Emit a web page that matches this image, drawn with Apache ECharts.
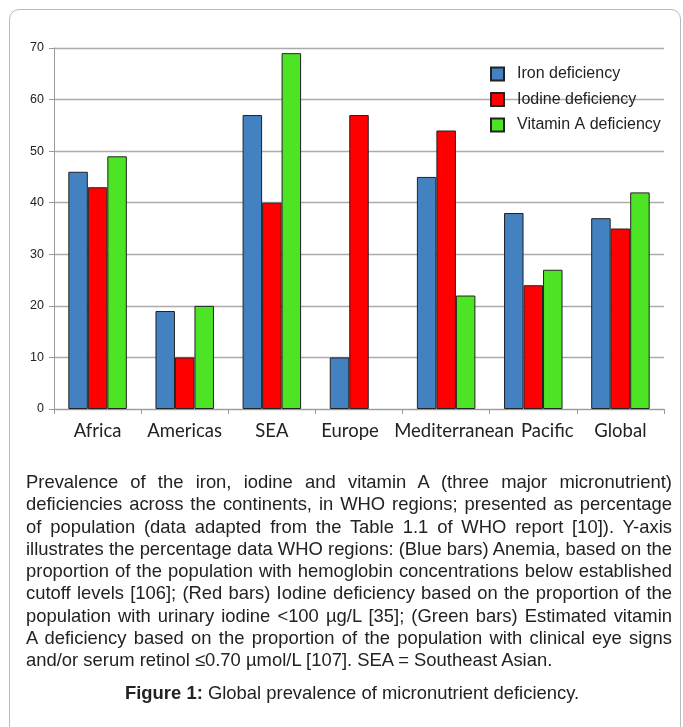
<!DOCTYPE html>
<html>
<head>
<meta charset="utf-8">
<script src="https://cdn.jsdelivr.net/npm/echarts@6/dist/echarts.min.js"></script>
<style>
  html, body { margin: 0; padding: 0; background: #fff; }
  #wrap { position: relative; width: 683px; height: 727px; overflow: hidden; }
  #frame {
    position: absolute; left: 9px; top: 9px; width: 672px; height: 760px;
    border: 1px solid #b9b9b9; border-radius: 10px; box-sizing: border-box;
  }
  #chart { position: absolute; left: 0; top: 0; width: 683px; height: 727px; }
  .txt {
    font-family: "Liberation Sans", Arial, sans-serif;
    font-size: 18.5px; color: #222;
  }
  #caption { position: absolute; left: 26px; top: 471px; width: 646px; }
  #caption .line {
    white-space: nowrap; height: 22.3px; line-height: 22.3px;
    transform-origin: 0 0;
  }
  #caption .line.full { text-align: justify; text-align-last: justify; }
  #figtitle {
    position: absolute; top: 682px; white-space: nowrap; line-height: 22px;
    transform-origin: 0 0;
  }
  #measure { position: absolute; visibility: hidden; white-space: nowrap; }
</style>
</head>
<body>
<div id="wrap">
  <div id="frame"></div>
  <div id="chart"></div>
  <div id="caption" class="txt">
    <div class="line full">Prevalence of the iron, iodine and vitamin A (three major micronutrient)</div>
    <div class="line full">deficiencies across the continents, in WHO regions; presented as percentage</div>
    <div class="line full">of population (data adapted from the Table 1.1 of WHO report [10]). Y-axis</div>
    <div class="line full" id="tightest">illustrates the percentage data WHO regions: (Blue bars) Anemia, based on the</div>
    <div class="line full">proportion of the population with hemoglobin concentrations below established</div>
    <div class="line full">cutoff levels [106]; (Red bars) Iodine deficiency based on the proportion of the</div>
    <div class="line full">population with urinary iodine &lt;100 µg/L [35]; (Green bars) Estimated vitamin</div>
    <div class="line full">A deficiency based on the proportion of the population with clinical eye signs</div>
    <div class="line">and/or serum retinol ≤0.70 µmol/L [107]. SEA = Southeast Asian.</div>
  </div>
  <div id="figtitle" class="txt"><b>Figure 1:</b> Global prevalence of micronutrient deficiency.</div>
  <span id="measure" class="txt"></span>
</div>
<script>
// WHO regions and deficiency prevalence (% of population)
const regions = ['Africa', 'Americas', 'SEA', 'Europe', 'Mediterranean', 'Pacific', 'Global'];
const ironDeficiency = [46, 19, 57, 10, 45, 38, 37];
const iodineDeficiency = [43, 10, 40, 57, 54, 24, 35];
const vitaminADeficiency = [49, 20, 69, null, 22, 27, 42];
const seriesNames = ['Iron deficiency', 'Iodine deficiency', 'Vitamin A deficiency'];
const seriesColors = ['#4381c1', '#ff0000', '#4ce424'];
// crowded labels are nudged sideways so they do not collide
const labelNudge = { Europe: -9, Mediterranean: 8, Pacific: 14 };

// Caption: narrow the text so the tightest line just fills the column, then justify the rest.
(function layoutCaption() {
  const box = document.getElementById('caption');
  const W = box.clientWidth;
  const meas = document.getElementById('measure');
  meas.textContent = document.getElementById('tightest').textContent;
  const s = W / meas.getBoundingClientRect().width;
  box.querySelectorAll('.line').forEach(l => {
    l.style.width = (W / s) + 'px';
    l.style.transform = 'scaleX(' + s + ')';
  });
  const t = document.getElementById('figtitle');
  const tw = t.getBoundingClientRect().width * s;
  t.style.transform = 'scaleX(' + s + ')';
  t.style.left = (352 - tw / 2) + 'px';
})();

const chart = echarts.init(document.getElementById('chart'), null, { renderer: 'canvas' });

const barBase = (name, data, color) => ({
  name: name,
  type: 'bar',
  data: data,
  barWidth: 19.5,
  barGap: '0%',
  itemStyle: { color: color, borderColor: '#222', borderWidth: 1 }
});

chart.setOption({
  animation: false,
  backgroundColor: 'transparent',
  grid: { left: 54, right: 19, top: 48, bottom: 318, containLabel: false },
  legend: {
    orient: 'vertical',
    left: 490,
    top: 66,
    padding: 0,
    itemWidth: 13,
    itemHeight: 13,
    itemGap: 9.5,
    icon: 'rect',
    data: seriesNames,
    textStyle: {
      fontFamily: 'Liberation Sans, Arial, sans-serif',
      fontSize: 16,
      lineHeight: 13,
      color: '#222',
      padding: [0, 0, 0, 8]
    }
  },
  xAxis: {
    type: 'category',
    data: regions,
    axisLine: { lineStyle: { color: '#9a9a9a', width: 1 } },
    axisTick: { show: true, alignWithLabel: false, length: 5, lineStyle: { color: '#9a9a9a' } },
    axisLabel: {
      fontFamily: 'Lato, "Open Sans", sans-serif',
      fontSize: 18.5,
      color: '#222',
      margin: 13,
      interval: 0,
      formatter: function (v) {
        const n = labelNudge[v];
        return n ? '{' + (n < 0 ? 'l' : 'r') + Math.abs(n) + '|' + v + '}' : v;
      },
      rich: {
        l9: { padding: [0, 18, 0, 0], fontFamily: 'Lato', fontSize: 18.5, color: '#222' },
        r8: { padding: [0, 0, 0, 16], fontFamily: 'Lato', fontSize: 18.5, color: '#222' },
        r14: { padding: [0, 0, 0, 28], fontFamily: 'Lato', fontSize: 18.5, color: '#222' }
      }
    }
  },
  yAxis: {
    type: 'value',
    min: 0,
    max: 70,
    interval: 10,
    axisLine: { show: true, lineStyle: { color: '#9a9a9a', width: 1 } },
    axisTick: { show: true, length: 5, lineStyle: { color: '#9a9a9a' } },
    axisLabel: {
      fontFamily: 'Liberation Sans, Arial, sans-serif',
      fontSize: 12.5,
      color: '#222',
      margin: 10
    },
    splitLine: { show: true, lineStyle: { color: '#ababab', width: 1.4 } }
  },
  series: [
    barBase(seriesNames[0], ironDeficiency, seriesColors[0]),
    barBase(seriesNames[1], iodineDeficiency, seriesColors[1]),
    barBase(seriesNames[2], vitaminADeficiency, seriesColors[2])
  ]
});
</script>
</body>
</html>
